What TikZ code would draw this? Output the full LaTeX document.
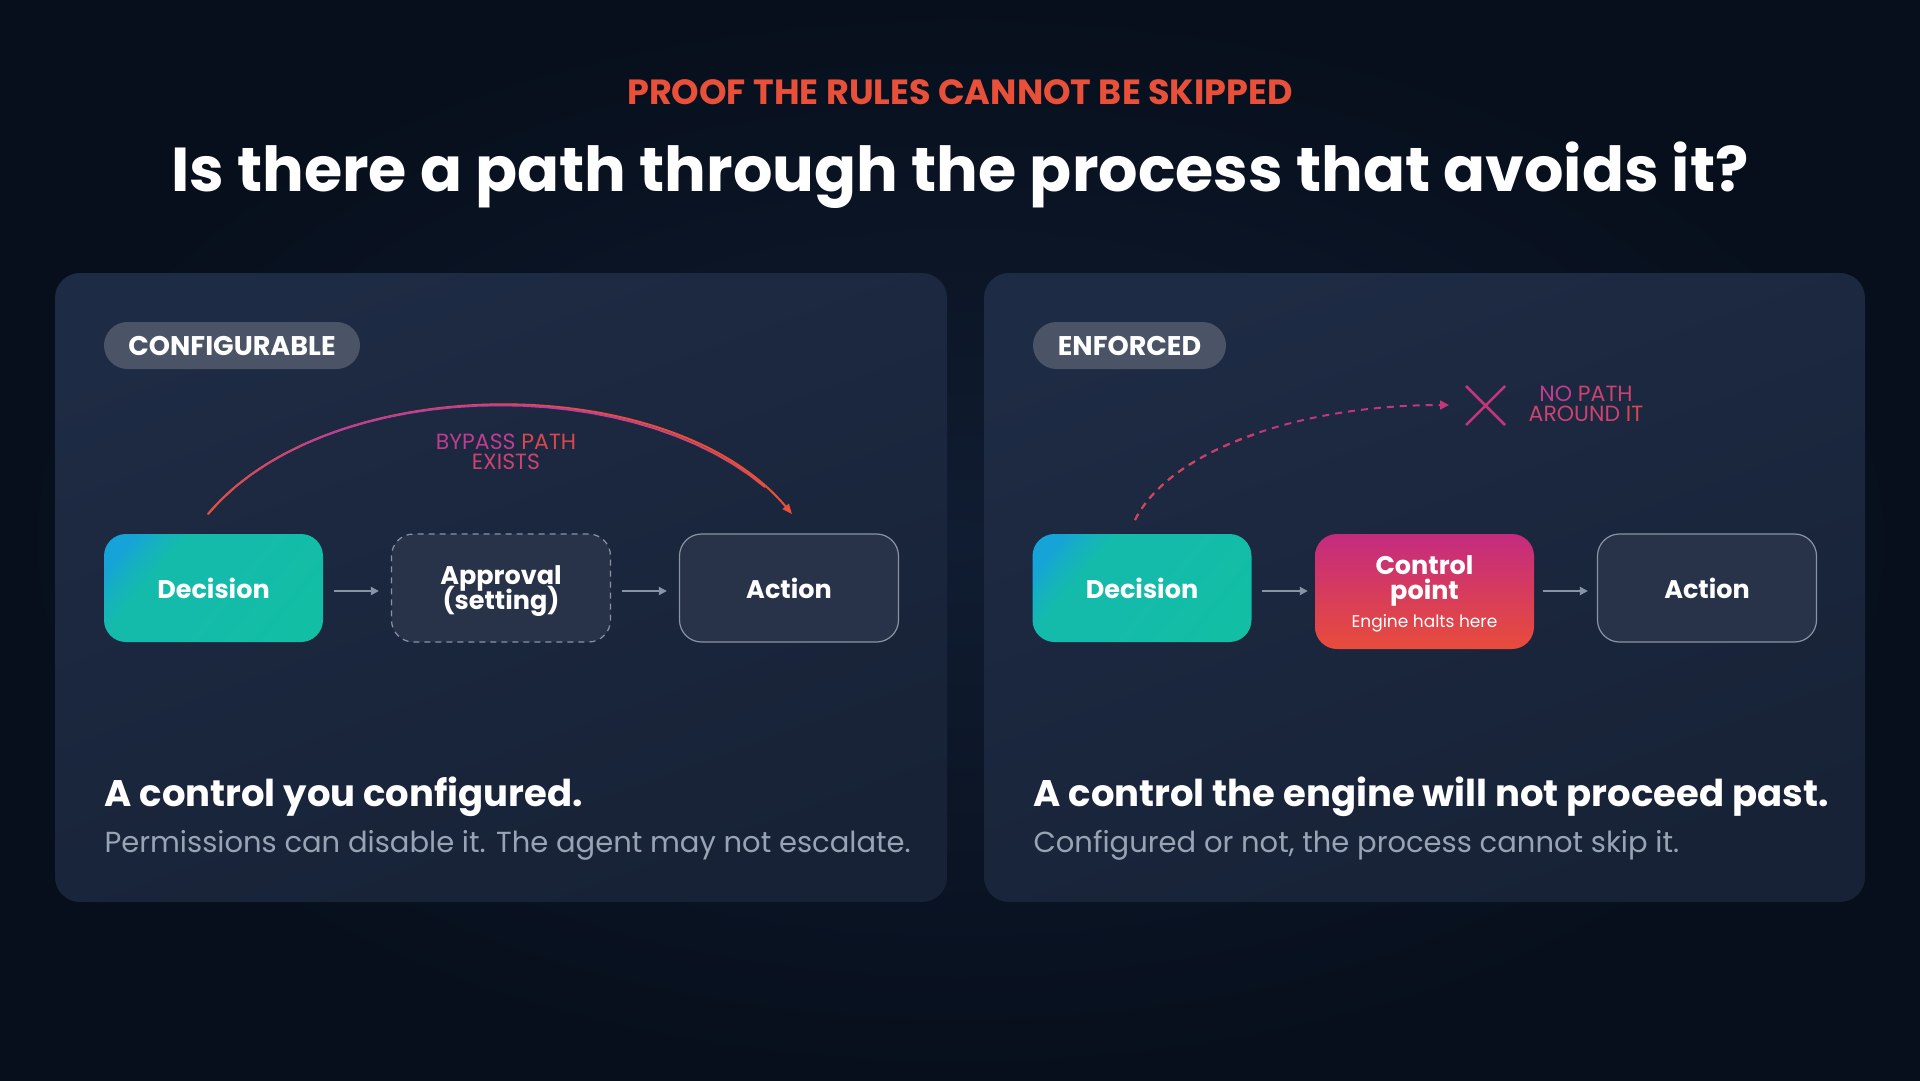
\documentclass[tikz,border=0pt]{standalone}
\usepackage{fontspec}
\setmainfont{Poppins}
\usetikzlibrary{arrows.meta}
\newcommand\tightls{\lineskiplimit=-50pt\relax}
\definecolor{bgdark}{HTML}{070F1C}
\definecolor{bgmid}{HTML}{101C31}
\definecolor{paneltop}{HTML}{1E2B44}
\definecolor{panelbot}{HTML}{172236}
\definecolor{pillc}{HTML}{4A5466}
\definecolor{accent}{HTML}{E8503A}
\definecolor{magc}{HTML}{C4357C}
\definecolor{txtA}{HTML}{BE3D8E}
\definecolor{txtB}{HTML}{D9474E}
\definecolor{txtC}{HTML}{CC4270}
\definecolor{graytxt}{HTML}{98A4B4}
\definecolor{boxfill}{HTML}{283349}
\definecolor{boxline}{HTML}{8A93A3}
\definecolor{arrowc}{HTML}{8794A6}
\definecolor{dblue}{HTML}{16A3D8}
\definecolor{dteal}{HTML}{14BBAA}
\definecolor{dteal2}{HTML}{12BEA4}
\definecolor{dmix}{HTML}{15B2BE}
\definecolor{cmag}{HTML}{C42B80}
\definecolor{cred}{HTML}{E84C3B}
\definecolor{arcL}{HTML}{E0503F}
\definecolor{arcM}{HTML}{B8409C}
\definecolor{arcR}{HTML}{E8503A}
\definecolor{dashL}{HTML}{CC4858}
\definecolor{dashR}{HTML}{C4357C}
\pgfdeclareverticalshading{decshade}{100bp}{color(0bp)=(dteal2); color(25bp)=(dteal2); color(50bp)=(dteal); color(66bp)=(dteal); color(72bp)=(dmix); color(78bp)=(dblue); color(100bp)=(dblue)}
\tikzset{
  panel/.style={rounded corners=25pt, top color=paneltop, bottom color=panelbot, shading angle=20},
  pill/.style={fill=pillc, rounded corners=23.5pt, minimum height=47pt, text=white,
    font=\fontsize{27}{30}\selectfont\bfseries},
  stepbox/.style={rounded corners=22pt, minimum width=219pt, minimum height=108pt,
    text=white, align=center, font=\fontsize{25.5}{25}\selectfont\bfseries\tightls},
  plainbox/.style={stepbox, fill=boxfill, draw=boxline, line width=1.2pt},
  decbox/.style={stepbox, shade, shading=decshade, shading angle=50},
  flow/.style={-{Triangle[length=8pt,width=8pt]}, line width=2pt, draw=arrowc},
  headline/.style={text=white, anchor=base west, font=\fontsize{37}{40}\selectfont\bfseries},
  subline/.style={text=graytxt, anchor=base west, font=\fontsize{29}{32}\selectfont},
  note/.style={align=center, font=\fontsize{22}{19.5}\selectfont\tightls}
}
\begin{document}
\begin{tikzpicture}[x=1pt,y=-1pt]
\useasboundingbox (0,0) rectangle (1920,1081);
\shade[inner color=bgmid, outer color=bgdark] (0,0) rectangle (1920,1081);

% title
\node[text=accent, font=\fontsize{35}{38}\selectfont\bfseries] (sub) at (960,92) {PROOF THE RULES CANNOT BE SKIPPED};
\node[text=white, font=\fontsize{62}{70}\selectfont\bfseries] (title) at (960,175) {Is there a path through the process that avoids it?};

% panels
\shade[panel] (55,273) rectangle (947,902);
\shade[panel] (984,273) rectangle (1865,902);

% pills
\node[pill, minimum width=256pt] (pillL) at (232,345.5) {CONFIGURABLE};
\node[pill, minimum width=193pt] (pillR) at (1129.5,345.5) {ENFORCED};

\coordinate (ya) at (0,591);

% left flow
\node[decbox] (dec1) at (213.5,588) {Decision};
\node[plainbox, dashed, dash pattern=on 6pt off 5pt] (appr) at (501,588) {\rule{0pt}{25pt}Approval\\(setting)};
\node[plainbox] (act1) at (789,588) {Action};
\draw[flow, shorten <=11pt, shorten >=12pt] (dec1.east |- ya) -- (appr.west |- ya);
\draw[flow, shorten <=11pt, shorten >=12pt] (appr.east |- ya) -- (act1.west |- ya);

% bypass arc (colour varies along its length)
\coordinate (bs) at (208,514);
\coordinate (be) at (792,514);
\draw[line width=2pt, draw=arcR, -{Triangle[length=10pt,width=8pt]}]
  (bs) .. controls (330,369) and (670,369) .. (be);
\path (bs) .. controls (330,369) and (670,369) .. (be)
  \foreach \k in {0,...,30} { coordinate[pos=\k/30] (bp\k) };
\foreach \k in {0,...,27} {
  \pgfmathtruncatemacro\kn{\k+1}
  \pgfmathsetmacro\tpos{(\k+0.5)/30}
  \pgfmathsetmacro\mL{max(0,min(100,100*(1-\tpos/0.25)))}
  \pgfmathsetmacro\mR{max(0,min(100,100*(\tpos-0.62)/0.36))}
  \ifdim\tpos pt<0.5pt \colorlet{arcc}{arcL!\mL!arcM}\else \colorlet{arcc}{arcR!\mR!arcM}\fi
  \draw[line width=2pt, line cap=round, draw=arcc] (bp\k) -- (bp\kn);
}
\node[note] (bypass) at (506,452) {{\color{txtA}BYPASS} {\color{txtB}PATH}\\{\color{txtC}EXISTS}};

% right flow
\node[decbox] (dec2) at (1142,588) {Decision};
\node[stepbox, minimum height=115pt, top color=cmag, bottom color=cred] (ctrl) at (1424.5,591.5)
  {\rule{0pt}{21pt}\raisebox{-3pt}{Control}\\[0pt]\raisebox{-3pt}{point}\\[6pt]{\fontsize{17}{17}\selectfont\mdseries Engine halts here}};
\node[plainbox] (act2) at (1707,588) {Action};
\draw[flow, shorten <=10pt, shorten >=7pt] (dec2.east |- ya) -- (ctrl.west |- ya);
\draw[flow, shorten <=9pt, shorten >=9pt] (ctrl.east |- ya) -- (act2.west |- ya);

% blocked dashed path
\coordinate (ds) at (1135,520);
\coordinate (de) at (1449,405);
\draw[line width=2pt, draw=dashR, dash pattern=on 7pt off 6pt, -{Triangle[length=9pt,width=9pt]}]
  (ds) .. controls (1170,450) and (1300,405) .. (de);
\begin{scope}
  \clip (1120,540) rectangle (1200,430);
  \draw[line width=2pt, draw=dashL, dash pattern=on 7pt off 6pt] (ds) .. controls (1170,450) and (1300,405) .. (de);
\end{scope}
\begin{scope}
  \clip (1200,540) rectangle (1260,400);
  \draw[line width=2pt, draw=dashL!50!dashR, dash pattern=on 7pt off 6pt] (ds) .. controls (1170,450) and (1300,405) .. (de);
\end{scope}
\draw[line width=2.5pt, draw=magc] (1466,386) -- (1505,425) (1505,386) -- (1466,425);
\node[note] (nopath) at (1586,404) {{\color{txtA}NO} {\color{txtC}PATH}\\{\color{txtC}AROUND} {\color{txtB}IT}};

% bottom texts
\node[headline] (h1) at (101,806) {A control you configured.};
\node[subline] (s1) at (101,852) {Permissions can disable it. The agent may not escalate.};
\node[headline] (h2) at (1030,806) {A control the engine will not proceed past.};
\node[subline] (s2) at (1030,852) {Configured or not, the process cannot skip it.};
\end{tikzpicture}
\end{document}
